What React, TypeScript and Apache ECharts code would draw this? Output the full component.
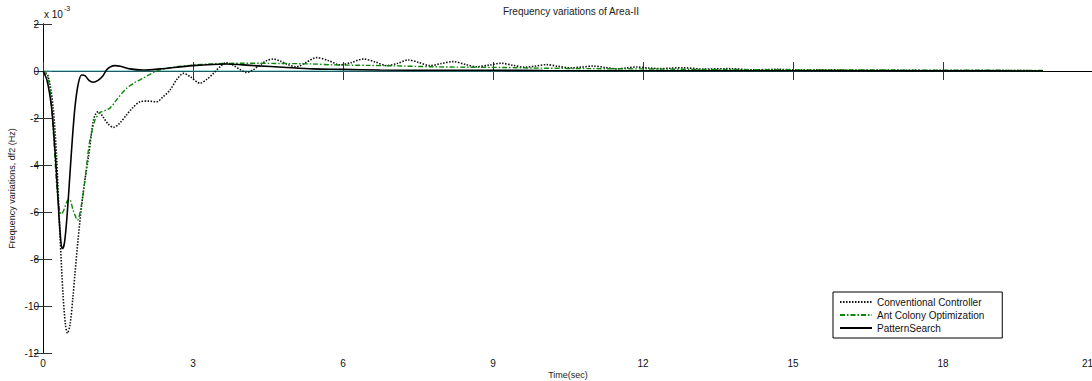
import React, { useEffect, useRef } from "react";
import * as echarts from "echarts";

const xTicks = [0, 3, 6, 9, 12, 15, 18, 21];
const yTicks = [-12, -10, -8, -6, -4, -2, 0, 2];

const seriesNames = ["Conventional Controller", "Ant Colony Optimization", "PatternSearch"];

// [time (s), df2 (x 10^-3 Hz)]
const conventional: [number, number][] = [
  [0, 0], [0.1, -0.2], [0.2, -1.5], [0.27, -3.6], [0.34, -7.0], [0.4, -9.5], [0.45, -10.8], [0.49, -11.16],
  [0.54, -10.8], [0.6, -9.6], [0.64, -8.6], [0.7, -7.2], [0.77, -5.77], [0.84, -4.6], [0.91, -3.65],
  [0.96, -2.8], [1.01, -2.09], [1.06, -1.8], [1.11, -1.73], [1.2, -1.95], [1.3, -2.25], [1.41, -2.4],
  [1.52, -2.25], [1.67, -1.87], [1.8, -1.55], [1.94, -1.31], [2.1, -1.28], [2.27, -1.31], [2.4, -1.1],
  [2.54, -0.81], [2.68, -0.35], [2.81, -0.1], [2.95, -0.25], [3.14, -0.52], [3.28, -0.35], [3.41, -0.1],
  [3.55, 0.2], [3.67, 0.35], [3.8, 0.25], [3.95, 0.05], [4.07, -0.06], [4.2, 0.05], [4.34, 0.26],
  [4.48, 0.45], [4.61, 0.51], [4.75, 0.42], [4.9, 0.27], [5.07, 0.18], [5.25, 0.35], [5.47, 0.57],
  [5.7, 0.45], [5.94, 0.26], [6.15, 0.35], [6.41, 0.51], [6.65, 0.38], [6.87, 0.23], [7.1, 0.33],
  [7.3, 0.47], [7.52, 0.36], [7.74, 0.23], [7.97, 0.32], [8.2, 0.4], [8.45, 0.28], [8.67, 0.18],
  [8.92, 0.25], [9.17, 0.33], [9.4, 0.24], [9.64, 0.16], [9.85, 0.21], [10.07, 0.27], [10.3, 0.2],
  [10.54, 0.13], [10.78, 0.17], [11.0, 0.21], [11.24, 0.15], [11.47, 0.09], [11.67, 0.13], [11.87, 0.17],
  [12.1, 0.13], [12.34, 0.1], [12.55, 0.12], [12.8, 0.14], [13.2, 0.08], [13.7, 0.1], [14.2, 0.05],
  [14.7, 0.07], [15.2, 0.04], [15.7, 0.05], [16.2, 0.03], [17, 0.03], [18, 0.02], [19, 0.02], [20, 0.01],
];

const antColony: [number, number][] = [
  [0, 0], [0.1, -0.3], [0.17, -1.5], [0.22, -3.0], [0.27, -4.77], [0.32, -5.8], [0.37, -6.09],
  [0.42, -5.9], [0.48, -5.55], [0.53, -5.46], [0.6, -5.9], [0.69, -6.34], [0.76, -5.8], [0.84, -4.64],
  [0.9, -3.5], [0.94, -2.94], [1.04, -2.09], [1.14, -1.77], [1.24, -1.68], [1.34, -1.58], [1.5, -1.15],
  [1.67, -0.74], [1.83, -0.5], [2.0, -0.31], [2.13, -0.15], [2.27, 0], [2.45, 0.1], [2.67, 0.18],
  [3.0, 0.25], [3.34, 0.3], [4.0, 0.33], [4.7, 0.32], [5.4, 0.3], [5.8, 0.26], [6.5, 0.24], [7.0, 0.22],
  [7.8, 0.18], [8.5, 0.16], [9.2, 0.15], [10, 0.12], [11, 0.1], [12, 0.09], [13, 0.07], [14, 0.06],
  [15, 0.05], [16, 0.04], [17, 0.04], [18, 0.03], [19, 0.03], [20, 0.02],
];

const patternSearch: [number, number][] = [
  [0, 0], [0.08, -0.4], [0.17, -1.52], [0.22, -2.8], [0.27, -4.35], [0.32, -6.2], [0.36, -7.3],
  [0.39, -7.55], [0.43, -7.3], [0.48, -6.2], [0.54, -4.35], [0.59, -2.8], [0.64, -1.52], [0.7, -0.6],
  [0.77, -0.17], [0.84, -0.2], [0.92, -0.4], [1.0, -0.48], [1.1, -0.4], [1.2, -0.2], [1.27, 0.04],
  [1.35, 0.18], [1.44, 0.23], [1.55, 0.2], [1.74, 0.09], [2.0, 0.04], [2.34, 0.09], [3.0, 0.23],
  [3.67, 0.3], [4.0, 0.26], [4.3, 0.22], [4.8, 0.16], [5.4, 0.09], [6.0, 0.07], [6.74, 0.04], [8, 0.03],
  [9, 0.03], [10, 0.02], [12, 0.01], [14, 0.01], [16, 0.005], [18, 0.005], [20, 0],
];

const zeroLine: [number, number][] = [[0, 0], [20, 0]];

const FONT = "'Liberation Sans', Arial, Helvetica, sans-serif";

export default function App() {
  const ref = useRef<HTMLDivElement>(null);
  useEffect(() => {
    if (!ref.current) return;
    const chart = echarts.init(ref.current, undefined, { renderer: "svg" });
    const axisCommon = {
      axisLine: { show: true, lineStyle: { color: "#000", width: 1 } },
      axisTick: { show: true, inside: true, length: 9, lineStyle: { color: "#333", width: 1 } },
      splitLine: { show: false },
    };
    chart.setOption({
      animation: false,
      backgroundColor: "#fff",
      textStyle: { fontFamily: FONT },
      title: {
        text: "Frequency variations of Area-II",
        left: 566,
        textAlign: "center",
        top: 1,
        textStyle: { fontSize: 10, fontWeight: "normal", color: "#222", fontFamily: FONT },
      },
      grid: { left: 43, width: 1050, top: 24, height: 329, containLabel: false, outerBoundsMode: "none" },
      legend: {
        orient: "vertical",
        left: 833,
        top: 292,
        itemWidth: 32,
        itemHeight: 10,
        itemGap: 3,
        padding: [5, 18, 5, 6],
        backgroundColor: "#fff",
        borderColor: "#000",
        borderWidth: 1,
        borderRadius: 0,
        itemStyle: { opacity: 0 },
        textStyle: { fontSize: 10, color: "#111", fontFamily: FONT },
        data: seriesNames,
      },
      xAxis: [
        {
          type: "value",
          position: "bottom",
          min: 0,
          max: 21,
          interval: 3,
          ...axisCommon,
          axisLabel: {
            show: true,
            fontSize: 10,
            color: "#111",
            margin: 5,
            fontFamily: FONT,
            alignMaxLabel: "right",
            formatter: (v: number) => (xTicks.includes(v) ? String(v) : ""),
          },
          name: "Time(sec)",
          nameLocation: "middle",
          nameGap: 17,
          nameMoveOverlap: false,
          nameTextStyle: { fontSize: 9, color: "#222", fontFamily: FONT },
        },
        {
          type: "value",
          position: "top",
          min: 0,
          max: 21,
          interval: 3,
          ...axisCommon,
          axisLabel: { show: false },
        },
      ],
      yAxis: [
        {
          type: "value",
          position: "left",
          min: -12,
          max: 2,
          interval: 2,
          ...axisCommon,
          axisLabel: { show: true, fontSize: 10, color: "#111", margin: 4, fontFamily: FONT, formatter: (v: number) => (yTicks.includes(v) ? String(v) : "") },
          name: "Frequency variations, df2 (Hz)",
          nameLocation: "middle",
          nameGap: 27,
          nameMoveOverlap: false,
          nameRotate: 90,
          nameTextStyle: { fontSize: 9, color: "#222", fontFamily: FONT },
        },
        {
          type: "value",
          position: "right",
          min: -12,
          max: 2,
          interval: 2,
          ...axisCommon,
          axisLabel: { show: false },
        },
      ],
      graphic: [
        {
          type: "text",
          left: 44,
          top: 5,
          style: {
            text: "{a|x 10}{b|-3}",
            rich: {
              a: { fontSize: 10, fill: "#111", fontFamily: FONT, verticalAlign: "bottom" },
              b: { fontSize: 7, fill: "#111", fontFamily: FONT, padding: [0, 0, 7, 1], verticalAlign: "top" },
            },
          },
        },
      ],
      series: [
        {
          name: "zero",
          type: "line",
          data: zeroLine,
          showSymbol: false,
          symbol: "none",
          lineStyle: { color: "#3cb4bd", width: 1 },
          silent: true,
          z: 1,
        },
        {
          name: seriesNames[0],
          type: "line",
          data: conventional,
          symbol: "none",
          smooth: 0.3,
          lineStyle: { color: "#111", width: 1.6, type: [1.5, 1.5] },
          itemStyle: { color: "#111" },
          z: 2,
        },
        {
          name: seriesNames[1],
          type: "line",
          data: antColony,
          symbol: "none",
          smooth: 0.3,
          lineStyle: { color: "#0b870b", width: 1.4, type: [5, 2, 1.5, 2] },
          itemStyle: { color: "#0b870b" },
          z: 3,
        },
        {
          name: seriesNames[2],
          type: "line",
          data: patternSearch,
          symbol: "none",
          smooth: 0.3,
          lineStyle: { color: "#000", width: 1.6 },
          itemStyle: { color: "#000" },
          z: 4,
        },
      ],
    });
    return () => chart.dispose();
  }, []);
  return (
    <div
      ref={ref}
      style={{ position: "fixed", left: 0, top: 0, width: 1092, height: 381, background: "#fff" }}
    />
  );
}
